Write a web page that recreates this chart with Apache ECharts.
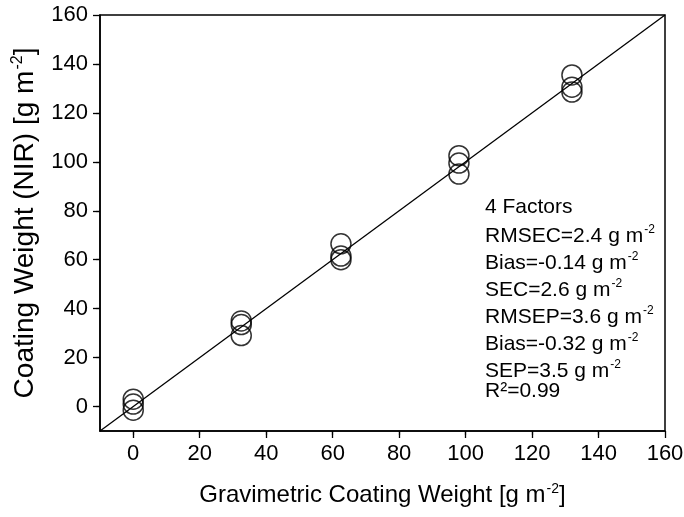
<!DOCTYPE html>
<html>
<head>
<meta charset="utf-8">
<script src="https://cdn.jsdelivr.net/npm/echarts@6/dist/echarts.min.js"></script>
<style>html,body{margin:0;padding:0;background:#fff}#c{width:684px;height:517px}</style>
</head>
<body>
<div id="c"></div>
<script>
// Data
const gravimetric = [0, 0, 0, 32.5, 32.5, 32.5, 62.5, 62.5, 62.5, 98, 98, 98, 132, 132, 132];
const nirPredicted = [3, 1, -1.5, 35, 33.5, 29, 66.5, 61.5, 60, 102.5, 99.5, 95, 135.5, 130.5, 128.5];
const identityLine = [[-10, -10], [160, 160]];
const xTicks = [0, 20, 40, 60, 80, 100, 120, 140, 160];
const yTicks = [0, 20, 40, 60, 80, 100, 120, 140, 160];
const statLines = [
  ['4 Factors', ''],
  ['RMSEC=2.4 g m', '-2'],
  ['Bias=-0.14 g m', '-2'],
  ['SEC=2.6 g m', '-2'],
  ['RMSEP=3.6 g m', '-2'],
  ['Bias=-0.32 g m', '-2'],
  ['SEP=3.5 g m', '-2'],
  ['R\u00b2=0.99', '']
];

const FONT = '"Liberation Sans", Arial, sans-serif';
const points = gravimetric.map((g, i) => [g, nirPredicted[i]]);

const chart = echarts.init(document.getElementById('c'));
const statTops = [197, 224, 251, 278, 305, 332, 359, 381];
const graphics = statLines.map((l, i) => ({
  type: 'text',
  left: 485,
  top: statTops[i],
  style: {
    text: l[1] ? '{m|' + l[0] + '}{s|' + l[1] + '}' : '{m|' + l[0] + '}',
    rich: {
      m: { fontSize: 21, fontFamily: FONT, fill: '#000', lineHeight: 25 },
      s: { fontSize: 12, fontFamily: FONT, fill: '#000', padding: [0, 0, 12, 1] }
    }
  }
}));

chart.setOption({
  animation: false,
  backgroundColor: '#fff',
  grid: { left: 100, right: 19, top: 15, bottom: 86, outerBoundsMode: 'none', containLabel: false, show: true, borderColor: '#000', borderWidth: 1.5, backgroundColor: 'transparent' },
  xAxis: {
    type: 'value', min: -10, max: 160, interval: 20,
    axisLine: { show: true, onZero: false, lineStyle: { color: '#000', width: 1.5 } },
    axisTick: { show: true, length: 7, lineStyle: { color: '#000', width: 1.3 }, customValues: xTicks },
    minorTick: { show: true, splitNumber: 2, length: 4, lineStyle: { color: '#000', width: 1.2 } },
    splitLine: { show: false },
    axisLabel: { color: '#000', fontSize: 22, fontFamily: FONT, margin: 12, customValues: xTicks },
    name: '{m|Gravimetric Coating Weight [g m}{s|-2}{m|]}',
    nameLocation: 'middle', nameGap: 51,
    nameTextStyle: { rich: {
      m: { fontSize: 24, fontFamily: FONT, color: '#000' },
      s: { fontSize: 14, fontFamily: FONT, color: '#000', padding: [0, 0, 13, 1] }
    } }
  },
  yAxis: {
    type: 'value', min: -10, max: 160, interval: 20,
    axisLine: { show: true, onZero: false, lineStyle: { color: '#000', width: 1.5 } },
    axisTick: { show: true, length: 7, lineStyle: { color: '#000', width: 1.3 }, customValues: yTicks },
    minorTick: { show: true, splitNumber: 2, length: 4, lineStyle: { color: '#000', width: 1.2 } },
    splitLine: { show: false },
    axisLabel: { color: '#000', fontSize: 22, fontFamily: FONT, margin: 12, customValues: yTicks },
    name: '{m|Coating Weight (NIR) [g m}{s|-2}{m|]}',
    nameLocation: 'middle', nameGap: 59,
    nameTextStyle: { rich: {
      m: { fontSize: 28, fontFamily: FONT, color: '#000' },
      s: { fontSize: 16, fontFamily: FONT, color: '#000', padding: [0, 0, 15, 1] }
    } }
  },
  series: [
    {
      type: 'line', data: identityLine, symbol: 'none', silent: true,
      lineStyle: { color: '#000', width: 1.3 }, z: 2
    },
    {
      type: 'scatter', data: points, symbol: 'circle', symbolSize: 20,
      itemStyle: { color: 'rgba(0,0,0,0)', borderColor: '#000', borderWidth: 1.5 }, z: 3
    }
  ],
  graphic: graphics
});
</script>
</body>
</html>
